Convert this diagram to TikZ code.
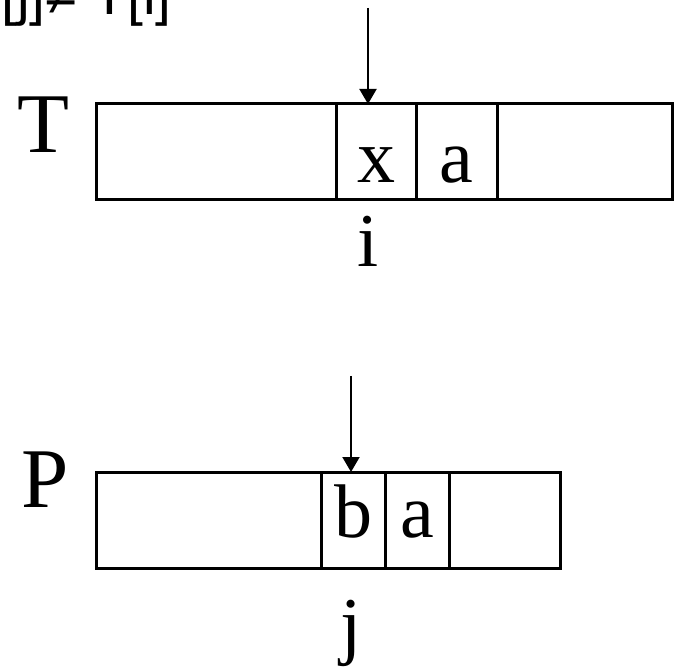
\documentclass[tikz,border=0pt]{standalone}
\usepackage{fontspec}
\setmainfont{Liberation Serif}
\newfontfamily\headfont{Liberation Sans}
\usetikzlibrary{arrows.meta,positioning}

\begin{document}
\begin{tikzpicture}[x=1pt,y=-1pt,
   cell/.style={draw,line width=3pt,inner sep=0pt,outer sep=0pt,minimum height=96pt},
   letter/.style={anchor=base,inner sep=0pt,font=\fontsize{76}{76}\selectfont},
   arrname/.style={anchor=base,inner sep=0pt,font=\fontsize{85}{85}\selectfont},
   ptr/.style={line width=2pt,-{Triangle[length=15pt,width=17pt]}}]
  \useasboundingbox (0,0) rectangle (675,668);
  \clip (0,0) rectangle (675,668);
  % mismatch condition, cut off at the top
  \node[anchor=base east,inner sep=0pt,font=\headfont\fontsize{57}{57}\selectfont]
       (cond) at (172,15) {P[j]≠ T[i]};
  % text T
  \node[arrname] (tname) at (43,153) {T};
  \node[cell,minimum width=240pt,anchor=north west] (t1) at (96,104) {};
  \node[cell,minimum width=80pt,right=0pt of t1] (t2) {};
  \node[cell,minimum width=81pt,right=0pt of t2] (t3) {};
  \node[cell,minimum width=175pt,right=0pt of t3] (t4) {};
  \node[letter] (tx) at ([yshift=-31pt]t2.center) {x};
  \node[letter] (ta) at ([yshift=-31pt]t3.center) {a};
  \coordinate (tptr) at (368,8);
  \draw[ptr] (tptr) -- (tptr |- t2.north);
  \node[letter] (ti) at (368,267) {i};
  % pattern P
  \node[arrname] (pname) at (45,507) {P};
  \node[cell,minimum width=225pt,anchor=north west] (p1) at (96,472) {};
  \node[cell,minimum width=64pt,right=0pt of p1] (p2) {};
  \node[cell,minimum width=64pt,right=0pt of p2] (p3) {};
  \node[cell,minimum width=111pt,right=0pt of p3] (p4) {};
  \node[letter] (pb) at ([yshift=-17pt]p2.center) {b};
  \node[letter] (pa) at ([yshift=-17pt]p3.center) {a};
  \coordinate (pptr) at (351,376);
  \draw[ptr] (pptr) -- (pptr |- p2.north);
  \node[letter] (pj) at (351,650) {j};
\end{tikzpicture}
\end{document}
